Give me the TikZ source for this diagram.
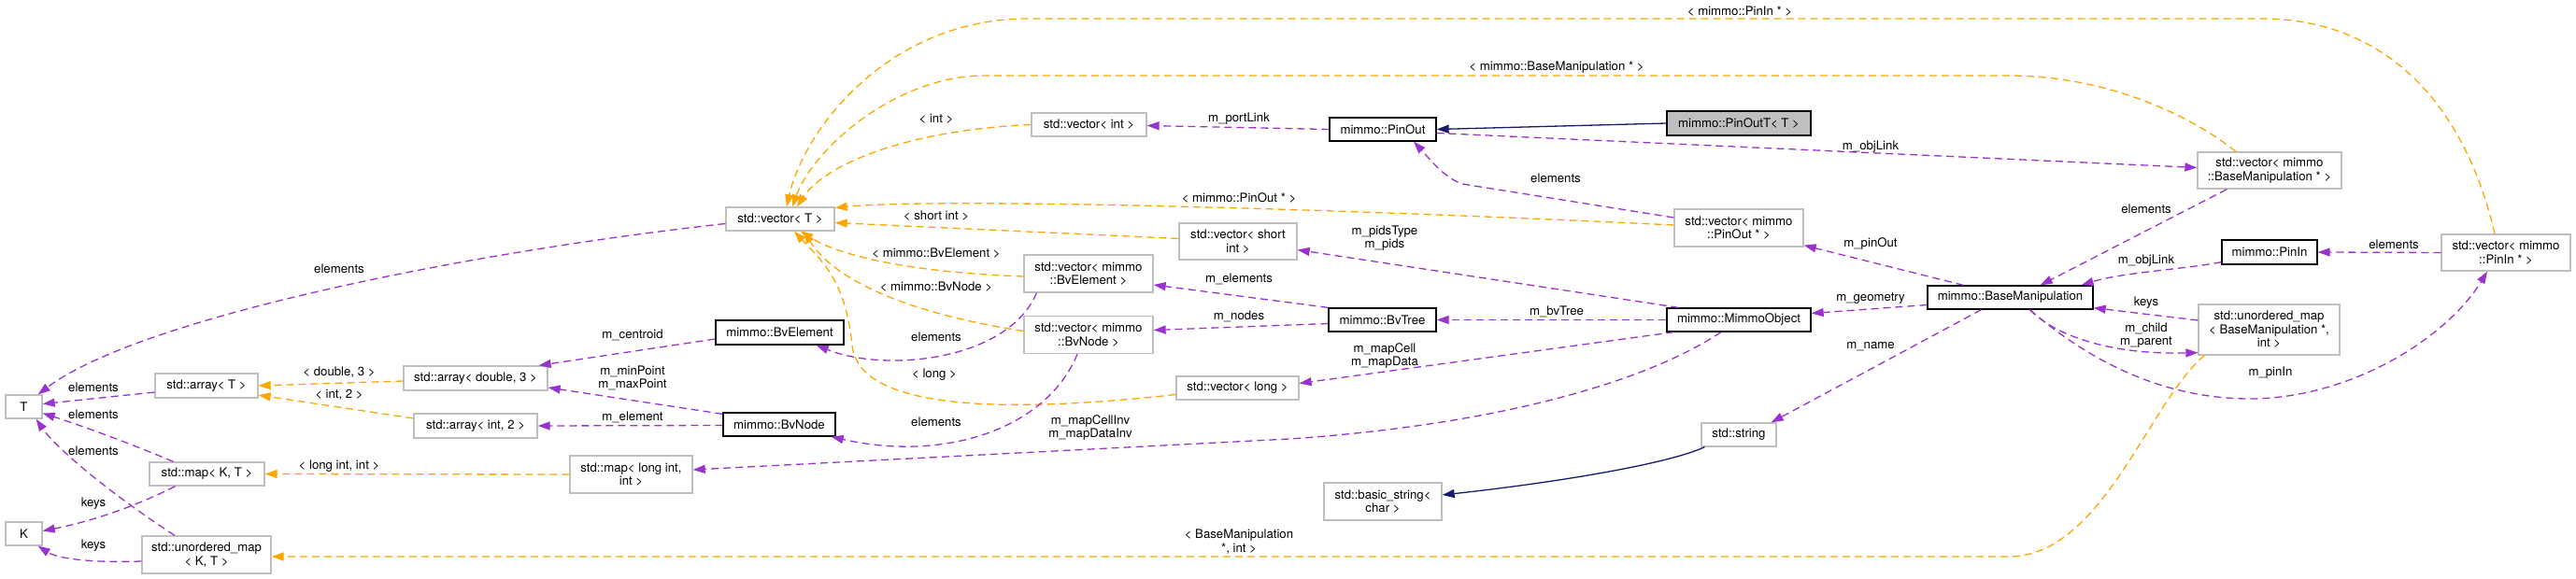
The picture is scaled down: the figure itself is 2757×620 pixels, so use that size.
\documentclass[tikz,border=0pt]{standalone}
\usepackage{fontspec}
\setmainfont{TeX Gyre Heros}
\usetikzlibrary{arrows.meta,calc}
\definecolor{dxpurple}{HTML}{9A32CD}
\definecolor{dxorange}{HTML}{FFA500}
\definecolor{dxnavy}{HTML}{191970}
\definecolor{dxgray}{HTML}{BFBFBF}
\begin{document}
\begin{tikzpicture}[x=1pt,y=-1pt,
  font=\fontsize{13.2}{14.5}\selectfont,
  cls/.style={draw=dxgray, line width=1.3pt, inner sep=0pt, align=center, fill=white},
  doc/.style={cls, draw=black},
  tip/.style={-{Triangle[length=13pt,width=9pt]}},
  ep/.style={draw=dxpurple, line width=1.3pt, dash pattern=on 8pt off 5pt, tip},
  eo/.style={draw=dxorange, line width=1.3pt, dash pattern=on 8pt off 5pt, tip},
  en/.style={draw=dxnavy, line width=1.3pt, tip},
  lbl/.style={inner sep=0pt, align=center}]
\fill[white] (0,0) rectangle (2757,620);
\useasboundingbox (0,0) rectangle (2757,620);

% nodes
\node[cls,minimum width=39pt,minimum height=25pt] (T) at (25.5,435.5) {T};
\node[cls,minimum width=39pt,minimum height=25pt] (K) at (25.5,571.5) {K};
\node[cls,minimum width=110pt,minimum height=26pt] (arrT) at (221,413) {std::array< T >};
\node[cls,minimum width=123pt,minimum height=25pt] (mapKT) at (221.5,507.5) {std::map< K, T >};
\node[cls,minimum width=138pt,minimum height=40pt] (umapKT) at (221,594) {std::unordered\_map\\< K, T >};
\node[cls,minimum width=154pt,minimum height=26pt] (arrD) at (509,405) {std::array< double, 3 >};
\node[cls,minimum width=132pt,minimum height=26pt] (arrI) at (509,456) {std::array< int, 2 >};
\node[cls,minimum width=131pt,minimum height=40pt] (mapLI) at (675.5,508) {std::map< long int,\\int >};
\node[cls,minimum width=116pt,minimum height=25pt] (vecT) at (835,234.5) {std::vector< T >};
\node[doc,minimum width=137pt,minimum height=26pt] (BvElement) at (834.5,356) {mimmo::BvElement};
\node[doc,minimum width=120pt,minimum height=25pt] (BvNode) at (834,454.5) {mimmo::BvNode};
\node[cls,minimum width=123pt,minimum height=25pt] (vecInt) at (1165.5,133.5) {std::vector< int >};
\node[cls,minimum width=138pt,minimum height=40pt] (vecBvE) at (1165,293) {std::vector< mimmo\\::BvElement >};
\node[cls,minimum width=138pt,minimum height=40pt] (vecBvN) at (1165,358.5) {std::vector< mimmo\\::BvNode >};
\node[cls,minimum width=126pt,minimum height=39pt] (vecShort) at (1325,258.5) {std::vector< short\\int >};
\node[cls,minimum width=131pt,minimum height=25pt] (vecLong) at (1324.5,415.5) {std::vector< long >};
\node[doc,minimum width=114pt,minimum height=25pt] (PinOut) at (1480,138.5) {mimmo::PinOut};
\node[doc,minimum width=115pt,minimum height=25pt] (BvTree) at (1479.5,342.5) {mimmo::BvTree};
\node[cls,minimum width=126pt,minimum height=40pt] (basicStr) at (1480,537) {std::basic\_string<\\char >};
\node[doc,fill=dxgray,minimum width=154pt,minimum height=26pt] (PinOutT) at (1861,132) {mimmo::PinOutT< T >};
\node[cls,minimum width=138pt,minimum height=40pt] (vecPinOut) at (1861,244) {std::vector< mimmo\\::PinOut * >};
\node[doc,minimum width=154pt,minimum height=25pt] (MimmoObject) at (1861,342.5) {mimmo::MimmoObject};
\node[cls,minimum width=80pt,minimum height=25pt] (string) at (1861,465.5) {std::string};
\node[doc,minimum width=177pt,minimum height=25pt] (BM) at (2151.5,318.5) {mimmo::BaseManipulation};
\node[cls,minimum width=154pt,minimum height=39pt] (vecBM) at (2429,182.5) {std::vector< mimmo\\::BaseManipulation * >};
\node[doc,minimum width=102pt,minimum height=26pt] (PinIn) at (2429,270) {mimmo::PinIn};
\node[cls,minimum width=151pt,minimum height=54pt] (umapBM) at (2428.5,353) {std::unordered\_map\\< BaseManipulation *,\\int >};
\node[cls,minimum width=138pt,minimum height=39pt] (vecPinIn) at (2682,270.5) {std::vector< mimmo\\::PinIn * >};

% edges into T and K
\draw[ep] ($(vecT.west)+(0,5)$) .. controls (500,270) and (150,340) .. ($(T.north east)+(-5,0)$);
\draw[ep] ($(arrT.west)+(0,7)$) -- ($(T.east)+(0,-3)$);
\draw[ep] ($(mapKT.north)+(-36,0)$) .. controls (140,475) and (85,455) .. ($(T.east)+(0,7)$);
\draw[ep] ($(umapKT.north)+(-34,0)$) .. controls (120,530) and (60,480) .. ($(T.south east)+(-7,0)$);
\draw[ep] ($(mapKT.south)+(-34,0)$) .. controls (140,545) and (90,560) .. ($(K.east)+(0,-3)$);
\draw[ep] ($(umapKT.west)+(0,7)$) .. controls (90,603) and (60,597) .. ($(K.south east)+(-5,0)$);

% template instances
\draw[eo] ($(arrD.west)+(0,3)$) -- (arrT.east);
\draw[eo] ($(arrI.west)+(0,-8)$) -- ($(arrT.east)+(0,10)$);
\draw[eo] (mapLI.west) -- (mapKT.east);
\draw[eo] ($(umapBM.south west)+(7,0)$) .. controls (2300,430) and (2250,596) .. (2150,596) -- ($(umapKT.east)+(0,2)$);

% members of BvElement / BvNode
\draw[ep] ($(BvElement.west)+(0,7)$) -- ($(arrD.north east)+(-10,0)$);
\draw[ep] ($(BvNode.north west)+(0,2)$) -- ($(arrD.east)+(0,10)$);
\draw[ep] ($(BvNode.west)+(0,1)$) -- (arrI.east);

% vector instances
\draw[eo] (vecInt.west) .. controls (960,140) and (880,180) .. ($(vecT.north)+(18,0)$);
\draw[eo] ($(vecPinIn.north)+(-12,0)$) .. controls (2640,120) and (2560,20) .. (2420,20) -- (1100,20) .. controls (950,20) and (860,140) .. ($(vecT.north)+(7,0)$);
\draw[eo] ($(vecBM.north)+(-36,0)$) .. controls (2340,120) and (2250,81) .. (2150,81) -- (1060,81) .. controls (960,78) and (870,160) .. ($(vecT.north)+(13,0)$);
\draw[eo] ($(vecPinOut.west)+(0,-3)$) .. controls (1400,222) and (1000,212) .. ($(vecT.east)+(0,-12)$);
\draw[eo] ($(vecShort.west)+(0,-3)$) -- ($(vecT.east)+(0,4)$);
\draw[eo] ($(vecBvE.west)+(0,3)$) .. controls (980,292) and (900,275) .. ($(vecT.south)+(22,0)$);
\draw[eo] ($(vecBvN.west)+(0,-4)$) .. controls (1000,340) and (900,310) .. ($(vecT.south)+(25,0)$);
\draw[eo] ($(vecLong.west)+(0,7)$) .. controls (1100,440) and (920,445) .. (912,370) .. controls (905,300) and (880,280) .. ($(vecT.south)+(15,0)$);

\draw[ep] ($(vecBvE.south west)+(14,0)$) .. controls (1080,385) and (950,400) .. ($(BvElement.south east)+(-30,0)$);
\draw[ep] ($(vecBvN.south)+(-12,0)$) .. controls (1120,460) and (1010,495) .. ($(BvNode.south east)+(-5,0)$);

% PinOut, BvTree, MimmoObject
\draw[ep] (PinOut.west) -- ($(vecInt.east)+(0,1)$);
\draw[ep] (BvTree.north west) -- ($(vecBvE.east)+(0,12)$);
\draw[ep] ($(BvTree.west)+(0,4)$) -- ($(vecBvN.east)+(0,-5)$);
\draw[ep] ($(MimmoObject.north west)+(13,0)$) -- ($(vecShort.east)+(0,9)$);
\draw[ep] (MimmoObject.west) -- (BvTree.east);
\draw[ep] ($(MimmoObject.south west)+(8,0)$) -- ($(vecLong.east)+(0,-5)$);
\draw[ep] ($(MimmoObject.south)+(-19,0)$) .. controls (1760,410) and (1600,455) .. (1380,470) -- ($(mapLI.east)+(0,-5)$);
\draw[en] (PinOutT.west) -- (PinOut.east);
\draw[ep] ($(PinOut.east)+(0,4)$) -- ($(vecBM.west)+(0,-3)$);
\draw[ep] ($(vecPinOut.west)+(0,-11)$) -- (1565,197) .. controls (1545,190) and (1530,170) .. ($(PinOut.south)+(33,0)$);

% BaseManipulation
\draw[ep] ($(BM.north west)+(39,0)$) -- ($(vecPinOut.south east)+(0,-2)$);
\draw[ep] ($(BM.west)+(0,8)$) -- ($(MimmoObject.east)+(0,-7)$);
\draw[ep] ($(BM.south)+(-31,0)$) -- ($(string.north east)+(-6,0)$);
\draw[en] ($(string.south west)+(4,0)$) .. controls (1790,495) and (1680,515) .. ($(basicStr.east)+(0,-7)$);
\draw[ep] ($(vecBM.south west)+(32,0)$) -- ($(BM.north east)+(-57,0)$);
\draw[ep] ($(PinIn.south west)+(0,-3)$) .. controls (2340,288) and (2270,292) .. ($(BM.north east)+(-13,0)$);
\draw[ep] (vecPinIn.west) -- (PinIn.east);
\draw[ep] ($(umapBM.west)+(0,-10)$) -- ($(BM.south east)+(0,-2)$);
\draw[ep] ($(BM.south)+(21,0)$) .. controls (2200,360) and (2260,380) .. ($(umapBM.south west)+(0,-3)$);
\draw[ep] ($(BM.south)+(21,0)$) .. controls (2240,390) and (2320,428) .. (2412,427) .. controls (2520,425) and (2620,360) .. ($(vecPinIn.south)+(-20,0)$);

% labels
\node[lbl] (la1) at (363,288) {elements};
\node[lbl] (la2) at (100,415) {elements};
\node[lbl] (la3) at (100,444) {elements};
\node[lbl] (la4) at (100,483) {elements};
\node[lbl] (la5) at (100,539) {keys};
\node[lbl] (la6) at (100,584) {keys};
\node[lbl] (la7) at (363,399) {< double, 3 >};
\node[lbl] (la8) at (363,423) {< int, 2 >};
\node[lbl] (la9) at (363,499) {< long int, int >};
\node[lbl] (la10) at (1326,580) {< BaseManipulation\\*, int >};
\node[lbl] (la11) at (677,359) {m\_centroid};
\node[lbl] (la12) at (677,405) {m\_minPoint\\m\_maxPoint};
\node[lbl] (la13) at (677,447) {m\_element};
\node[lbl] (la14) at (1002,127) {< int >};
\node[lbl] (la15) at (1002,231) {< short int >};
\node[lbl] (la16) at (1002,271) {< mimmo::BvElement >};
\node[lbl] (la17) at (1002,307) {< mimmo::BvNode >};
\node[lbl] (la18) at (1002,361) {elements};
\node[lbl] (la19) at (1000,401) {< long >};
\node[lbl] (la20) at (1002,452) {elements};
\node[lbl] (la21) at (1326,127) {m\_portLink};
\node[lbl] (la22) at (1326,212) {< mimmo::PinOut * >};
\node[lbl] (la23) at (1326,299) {m\_elements};
\node[lbl] (la24) at (1326,339) {m\_nodes};
\node[lbl] (la25) at (1167,458) {m\_mapCellInv\\m\_mapDataInv};
\node[lbl] (la26) at (1482,255) {m\_pidsType\\m\_pids};
\node[lbl] (la27) at (1666,334) {m\_bvTree};
\node[lbl] (la28) at (1482,381) {m\_mapCell\\m\_mapData};
\node[lbl] (la29) at (1665,191) {elements};
\node[lbl] (la30) at (1666,72) {< mimmo::BaseManipulation * >};
\node[lbl] (la31) at (1862,12) {< mimmo::PinIn * >};
\node[lbl] (la32) at (2002,157) {m\_objLink};
\node[lbl] (la33) at (2002,261) {m\_pinOut};
\node[lbl] (la34) at (2002,320) {m\_geometry};
\node[lbl] (la35) at (2002,371) {m\_name};
\node[lbl] (la36) at (2297,224) {elements};
\node[lbl] (la37) at (2297,279) {m\_objLink};
\node[lbl] (la38) at (2297,324) {keys};
\node[lbl] (la39) at (2297,359) {m\_child\\m\_parent};
\node[lbl] (la40) at (2430,399) {m\_pinIn};
\node[lbl] (la41) at (2562,262) {elements};
\end{tikzpicture}
\end{document}
